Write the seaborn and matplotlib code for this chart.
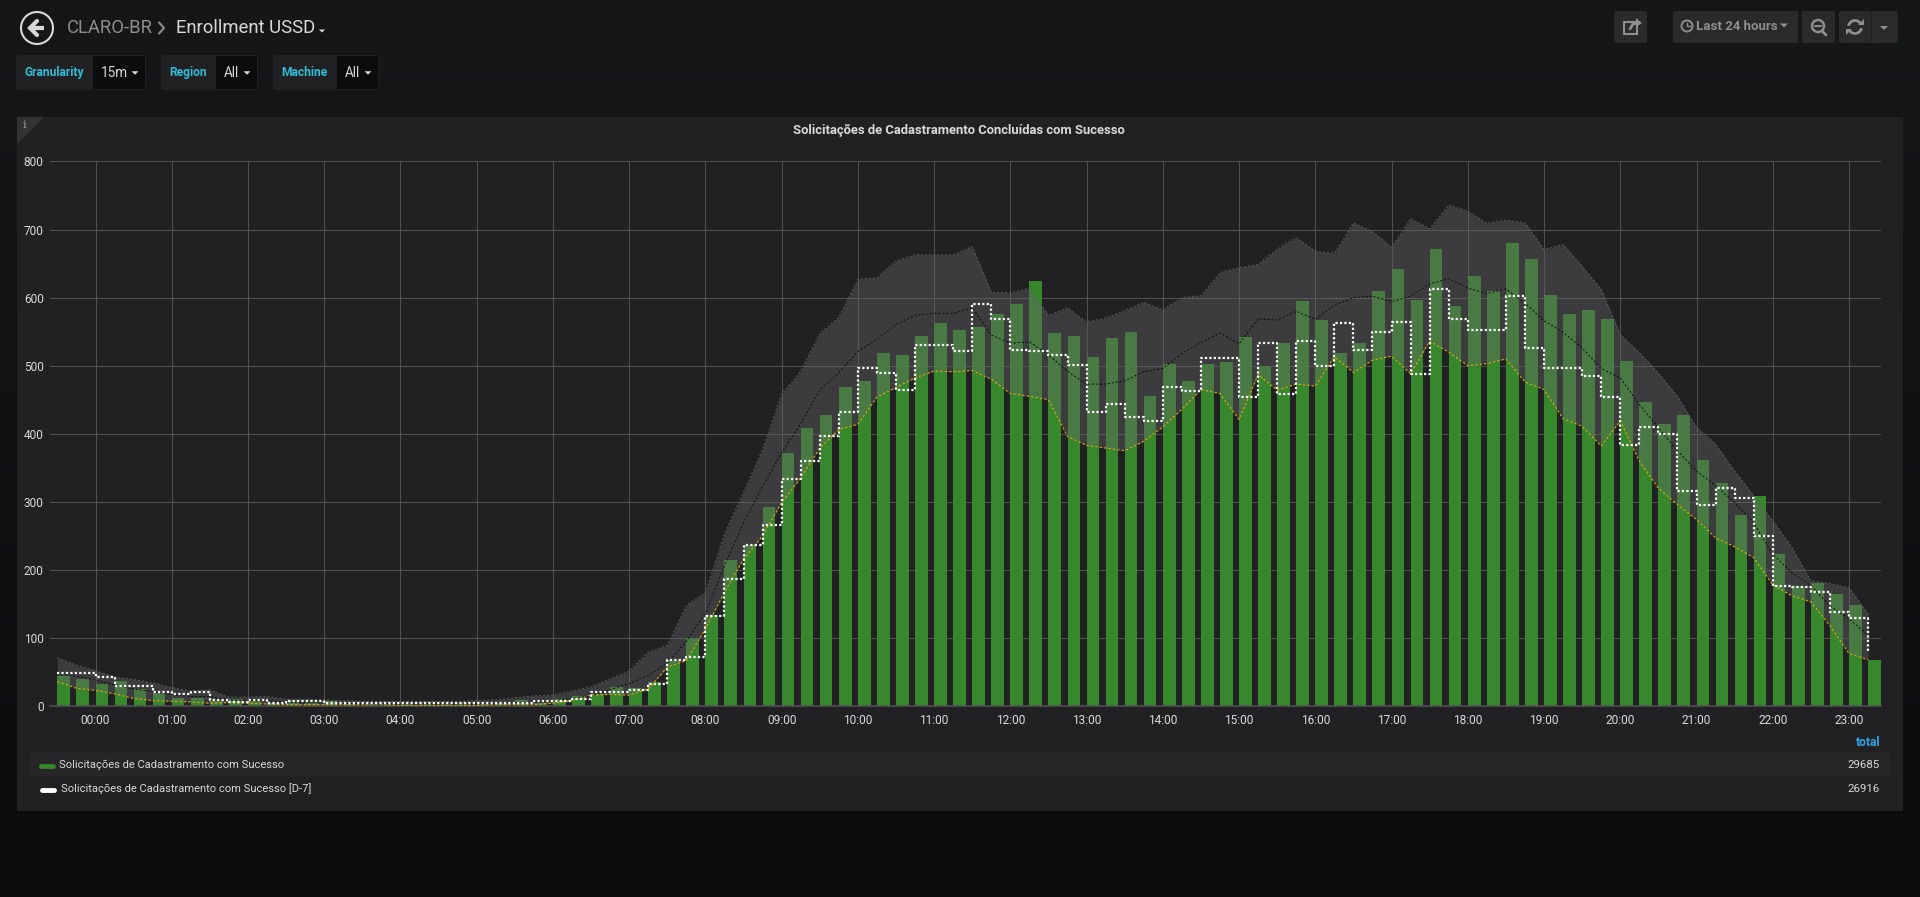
import numpy as np
import pandas as pd
import seaborn as sns
import matplotlib
matplotlib.use('Agg')
import matplotlib.pyplot as plt
from matplotlib.patches import Rectangle, Polygon, Circle, Arc, FancyBboxPatch

# 15 minute slots, first one is 23:30 of the day before, last one is 23:15
sucesso = [44, 39,
           32, 37, 25, 19, 12, 12, 8, 11, 8, 4, 7, 5, 7, 5, 3, 3, 3, 3, 3, 4, 3, 4, 9, 4,
           10, 15, 18, 28, 26, 35, 67, 100, 133, 215, 236, 293, 372, 409, 428, 469,
           478, 518, 515, 544, 562, 552, 557, 576, 591, 625, 548, 543, 513, 541, 550, 456,
           503, 478, 503, 505, 542, 500, 533, 595, 567, 519, 534, 609, 642, 596, 672, 588,
           632, 610, 680, 657, 604, 576, 582, 569, 507, 446, 415, 428, 362, 328, 280, 309,
           224, 177, 180, 164, 149, 68]
d7 = [49, 49,
      43, 29, 29, 20, 17, 20, 9, 6, 9, 5, 8, 8, 5, 5, 4, 4, 5, 4, 4, 4, 4, 4, 4, 8,
      8, 10, 21, 20, 23, 32, 67, 72, 132, 187, 237, 266, 333, 360, 396, 432,
      497, 489, 464, 531, 531, 522, 590, 568, 523, 522, 516, 501, 432, 443, 425, 419,
      468, 463, 512, 511, 454, 534, 458, 537, 500, 562, 523, 550, 564, 488, 613, 568,
      553, 552, 603, 526, 497, 496, 485, 454, 384, 410, 399, 316, 295, 320, 305, 250,
      177, 175, 168, 138, 129, 80]
banda_sup = [71, 60,
             52, 43, 39, 34, 27, 22, 24, 13, 13, 14, 10, 10, 9, 8, 7, 7, 7, 7, 7, 7, 8, 9, 12, 15,
             16, 22, 28, 40, 51, 79, 89, 148, 167, 253, 314, 377, 458, 492, 547, 571,
             627, 629, 654, 663, 663, 663, 675, 608, 607, 614, 574, 585, 564, 570, 581, 593,
             582, 600, 603, 637, 644, 649, 671, 688, 668, 665, 710, 697, 674, 716, 701, 736,
             727, 709, 714, 710, 671, 678, 646, 612, 546, 519, 489, 455, 409, 385, 345, 309,
             272, 233, 184, 180, 174, 135]
media = [48, 44,
         38, 31, 25, 21, 17, 14, 14, 9, 8, 8, 5, 5, 5, 4, 3, 3, 3, 3, 3, 3, 3, 4, 5, 6,
         8, 11, 15, 24, 33, 45, 63, 95, 137, 206, 269, 323, 372, 415, 464, 490,
         521, 539, 561, 574, 577, 577, 585, 545, 533, 535, 516, 492, 473, 473, 478, 491,
         496, 518, 534, 548, 532, 569, 567, 580, 568, 589, 600, 602, 594, 602, 620, 628,
         614, 606, 613, 592, 566, 549, 526, 496, 482, 443, 409, 375, 345, 324, 299, 269,
         223, 196, 177, 147, 128, 104]
banda_inf = [36, 26,
             23, 18, 11, 8, 7, 6, 4, 5, 4, 3, 2, 2, 2, 2, 2, 2, 1, 1, 1, 1, 1, 2, 2, 2,
             4, 8, 16, 17, 16, 25, 57, 67, 113, 167, 216, 250, 299, 335, 379, 406,
             414, 454, 468, 482, 492, 491, 493, 480, 459, 455, 450, 396, 383, 379, 375, 389,
             410, 436, 465, 459, 421, 487, 464, 473, 470, 513, 490, 508, 514, 488, 536, 520,
             500, 503, 510, 476, 465, 422, 411, 382, 419, 360, 320, 296, 274, 247, 234, 218,
             178, 162, 153, 118, 77, 68]
hour_labels = ['%02d:00' % h for h in range(24)]
y_ticks = [0, 100, 200, 300, 400, 500, 600, 700, 800]

titulo = 'Solicitações de Cadastramento Concluídas com Sucesso'
legenda = ['Solicitações de Cadastramento com Sucesso', 'Solicitações de Cadastramento com Sucesso [D-7]']
totais = ['29685', '26916']

GREEN = '#37872d'
GRID = '#505053'
TEXT = '#d8d9da'
MUTED = '#8e8e8e'
CYAN = '#33bcd6'

sns.set_style('dark')
plt.rcParams['font.family'] = ['Roboto', 'DejaVu Sans']

W, H = 1920, 897
fig = plt.figure(figsize=(W / 100, H / 100), dpi=100)

# page chrome is laid out in pixels on a full figure axes
ui = fig.add_axes([0, 0, 1, 1])
ui.set_xlim(0, W)
ui.set_ylim(H, 0)
ui.axis('off')
gradient = np.array([[0.086, 0.090, 0.098]]) + np.linspace(0, 1, 256)[:, None] * np.array([[-0.045, -0.045, -0.045]])
ui.imshow(gradient[:, None, :], extent=[0, W, H, 0], aspect='auto', zorder=0)


def box(x0, y0, x1, y1, color, z=1):
    ui.add_patch(FancyBboxPatch((x0 + 2, y0 + 2), x1 - x0 - 4, y1 - y0 - 4, boxstyle='round,pad=2',
                                fc=color, ec='none', zorder=z))


def caret(x, y, size, color):
    ui.add_patch(Polygon([(x - size, y - size / 2), (x + size, y - size / 2), (x, y + size / 2)],
                         fc=color, ec='none', zorder=5))


def label(x, y, s, size, color, **kw):
    ui.text(x, y, s, fontsize=size * 0.72, color=color, va='center', zorder=6, **kw)


# header
ui.add_patch(Circle((37, 28), 16, fc='none', ec=TEXT, lw=1.5, zorder=5))
ui.plot([30, 44], [28, 28], color=TEXT, lw=3, zorder=5, solid_capstyle='butt')
ui.plot([37, 30, 37], [21, 28, 35], color=TEXT, lw=3, zorder=5, solid_joinstyle='miter')
label(67, 28, 'CLARO-BR', 18.5, MUTED)
ui.plot([159, 164, 159], [22.5, 28, 33.5], color=MUTED, lw=1.5, zorder=5)
label(176, 28, 'Enrollment USSD', 18.5, TEXT)
caret(322, 31, 3, TEXT)

# template variables
for x0, xv, x1, name, val in [(16, 93, 146, 'Granularity', '15m'), (161, 216, 258, 'Region', 'All'),
                              (273, 337, 379, 'Machine', 'All')]:
    box(x0, 55, x1, 90, '#212124')
    ui.add_patch(Rectangle((xv, 56), x1 - xv - 1, 33, fc='#0b0c0e', ec='none', zorder=2))
    label(x0 + 8.5, 72.5, name, 12, CYAN, fontweight='bold')
    label(xv + 8, 73, val, 13.5, TEXT)
    caret(x1 - 11, 73, 3.5, TEXT)

# toolbar
for x0, x1 in [(1614, 1647), (1673, 1798), (1802, 1835), (1839, 1898)]:
    box(x0, 11, x1, 43, '#2a2a2c')
ui.plot([1871, 1871], [11, 43], color='#212124', lw=1, zorder=2)
ui.add_patch(Rectangle((1624, 22), 13, 12, fc='none', ec=MUTED, lw=1.5, zorder=5))
ui.plot([1630, 1633, 1638], [29, 24, 23], color=MUTED, lw=2, zorder=5)
ui.add_patch(Polygon([(1636, 18), (1642, 23), (1636, 27)], fc=MUTED, ec='none', zorder=5))
ui.add_patch(Circle((1687, 26), 5.5, fc='none', ec=MUTED, lw=1.4, zorder=5))
ui.plot([1687, 1687, 1690], [23, 26, 26], color=MUTED, lw=1, zorder=5)
label(1696, 27, 'Last 24 hours', 13.2, MUTED, fontweight='bold')
caret(1784, 25.5, 4, MUTED)
ui.add_patch(Circle((1818, 26), 6, fc='none', ec=MUTED, lw=1.8, zorder=5))
ui.plot([1815, 1821], [26, 26], color=MUTED, lw=1.5, zorder=5)
ui.plot([1822, 1826], [31, 35], color=MUTED, lw=2, zorder=5)
ui.add_patch(Arc((1855, 27), 13, 13, theta1=190, theta2=330, ec=MUTED, lw=2, zorder=5))
ui.add_patch(Arc((1855, 27), 13, 13, theta1=10, theta2=150, ec=MUTED, lw=2, zorder=5))
ui.add_patch(Polygon([(1858, 25), (1864, 19), (1864, 25)], fc=MUTED, ec='none', zorder=5))
ui.add_patch(Polygon([(1852, 29), (1846, 35), (1846, 29)], fc=MUTED, ec='none', zorder=5))
caret(1884, 28, 4, MUTED)

# panel
ui.add_patch(Rectangle((17, 117), 1886, 694, fc='#212124', ec='none', zorder=1))
ui.add_patch(Polygon([(17, 117), (44, 117), (17, 144)], fc='#333336', ec='none', zorder=2))
ui.text(24, 125, 'i', fontsize=8, color='#a0a0a0', family='DejaVu Serif', ha='center', va='center', zorder=3)
label(959, 130, titulo, 13, TEXT, ha='center', fontweight='bold')

# legend
ui.add_patch(Rectangle((30, 753), 1860, 24, fc='#262628', ec='none', zorder=2))
for y, x_text, x_swatch, color, name, total in [(765, 59, 41, GREEN, legenda[0], totais[0]),
                                                (789, 61, 42, '#ffffff', legenda[1], totais[1])]:
    ui.plot([x_swatch, x_swatch + 12], [y + 1, y + 1], color=color, lw=3.5, solid_capstyle='round', zorder=5)
    label(x_text, y, name, 11.1, TEXT)
    label(1880, y, total, 11.5, TEXT, ha='right')
label(1880, 742, 'total', 12, '#33a2e5', ha='right', fontweight='bold')

# graph
df = pd.DataFrame({'hora': np.arange(len(sucesso)) / 4 - 0.5, 'sucesso': sucesso, 'd7': d7,
                   'sup': banda_sup, 'media': media, 'inf': banda_inf})
# bars start on their timestamp, so shift the centre by half a bar
bar_frac = 0.667
df['centro'] = df['hora'] + bar_frac * 0.25 / 2

ax = fig.add_axes([50 / W, 1 - 706 / H, (1881 - 50) / W, (706 - 161.5) / H])
ax.patch.set_alpha(0)
sns.barplot(data=df, x='centro', y='sucesso', native_scale=True, width=bar_frac, color=GREEN,
            saturation=1, errorbar=None, linewidth=0, ax=ax, zorder=2)
ax.fill_between(df['hora'], df['inf'], df['sup'], color='#676767', alpha=0.4, lw=0, zorder=3)
# dash lengths are in line widths: thin lines about 1px wide, D-7 just over 2px wide
thin = (0, (2, 2))
thick = (0, (1, 1))
sns.lineplot(data=df, x='hora', y='sup', color='#5c5c5e', lw=0.72, linestyle=thin, errorbar=None, ax=ax, zorder=4)
sns.lineplot(data=df, x='hora', y='inf', color='#e0b000', lw=0.8, linestyle=thin, errorbar=None, ax=ax, zorder=4)
sns.lineplot(data=df, x='hora', y='media', color='#0c0c0c', lw=0.72, linestyle=thin, errorbar=None, ax=ax, zorder=4)
sns.lineplot(data=df, x='hora', y='d7', color='#ffffff', lw=1.6, linestyle=thick, drawstyle='steps-post',
             errorbar=None, ax=ax, zorder=5)

ax.set_xlim(-0.597, 23.42)
ax.set_ylim(0, 800)
ax.set_xticks(range(24))
ax.set_xticklabels(hour_labels)
ax.set_yticks(y_ticks)
ax.set_xlabel('')
ax.set_ylabel('')
ax.set_axisbelow(True)
ax.grid(True, color=GRID, lw=0.72)
ax.tick_params(axis='both', length=0, labelsize=8.6, labelcolor=TEXT)
ax.tick_params(axis='x', pad=5.5)
ax.tick_params(axis='y', pad=4.5)
for side, spine in ax.spines.items():
    spine.set_visible(side == 'bottom')
    spine.set_color(GRID)
    spine.set_linewidth(1.2)

fig.savefig('out.png', dpi=100)
